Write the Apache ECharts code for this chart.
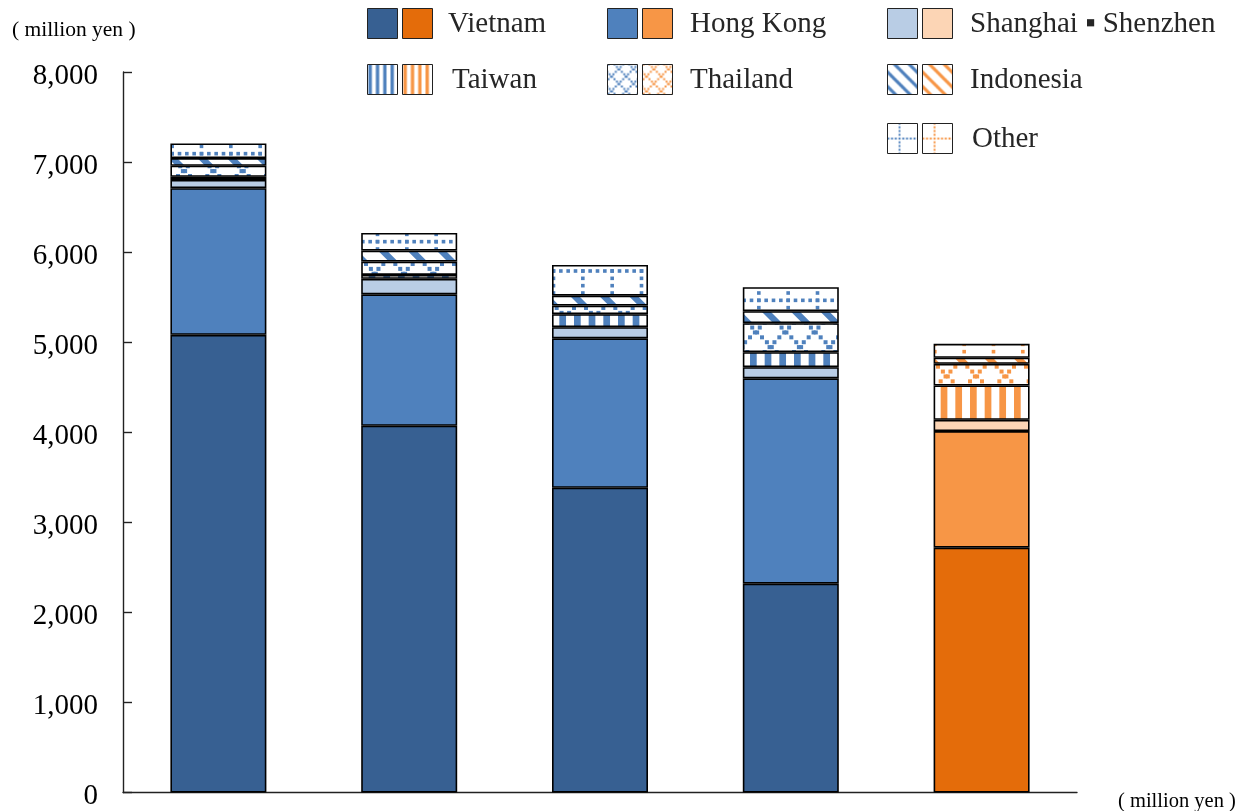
<!DOCTYPE html>
<html>
<head>
<meta charset="utf-8">
<script src="https://cdn.jsdelivr.net/npm/echarts@6/dist/echarts.min.js"></script>
<style>
  html, body { margin: 0; padding: 0; background: #fff; }
  #chart { width: 1242px; height: 811px; }
</style>
</head>
<body>
<div id="chart"></div>
<script>
// Stacked values per region (million yen), one entry per bar
const categories = ['1', '2', '3', '4', '5'];
const vietnam          = [5082, 4072, 3384, 2319, 2718];
const hongKong         = [1628, 1459, 1659, 2280, 1295];
const shanghaiShenzhen = [92, 172, 124, 124, 125];
const taiwan           = [35, 44, 144, 166, 381];
const thailand         = [122, 148, 95, 322, 241];
const indonesia        = [85, 122, 111, 133, 67];
const other            = [163, 196, 340, 266, 155];

const seriesNames = ['Vietnam', 'Hong Kong', 'Shanghai \u25AA Shenzhen', 'Taiwan', 'Thailand', 'Indonesia', 'Other'];
const seriesData = [vietnam, hongKong, shanghaiShenzhen, taiwan, thailand, indonesia, other];
const yTicks = [0, 1000, 2000, 3000, 4000, 5000, 6000, 7000, 8000];

// Bar drawn in the orange palette
const orangeBar = 4;

const BLUE = { dark: '#376092', mid: '#4F81BD', light: '#B9CDE5' };
const ORANGE = { dark: '#E46C0A', mid: '#F79646', light: '#FCD5B5' };

// ---- fill patterns -------------------------------------------------------
function makeTile(S, draw) {
  const c = document.createElement('canvas');
  c.width = S; c.height = S;
  const g = c.getContext('2d');
  g.fillStyle = '#fff';
  g.fillRect(0, 0, S, S);
  draw(g, S);
  return { image: c, repeat: 'repeat' };
}
function wrapRect(g, S, x, y, w, h) {
  for (const dx of [-S, 0, S]) for (const dy of [-S, 0, S]) g.fillRect(x + dx, y + dy, w, h);
}
function stripes(color, s) {
  return makeTile(Math.round(88 * s), (g, S) => {
    const P = S / 3;
    g.fillStyle = color;
    for (let k = 0; k < 6; k++) wrapRect(g, S, 2 * s + k * P / 2, 0, 6.7 * s, S);
  });
}
function lattice(color, s) {
  return makeTile(Math.round(88 * s), (g, S) => {
    const P = S / 3;
    g.fillStyle = color;
    const d = Math.max(2, 4 * s);
    const step = P / 6;
    for (let m = 0; m < 3; m++) {
      for (let i = 0; i < 18; i++) {
        const t = i * step;
        const xa = ((t + 14 * s + m * P) % S + S) % S;
        const xb = ((2 * s - t + m * P) % S + S) % S;
        wrapRect(g, S, xa - d / 2, t - d / 2, d, d);
        wrapRect(g, S, xb - d / 2, t - d / 2, d, d);
      }
    }
  });
}
function diagonal(color, s) {
  return makeTile(Math.round(88 * s), (g, S) => {
    const P = S / 3;
    g.fillStyle = color;
    const w = 9 * s;
    const c0 = 14.5 * s;
    for (let m = -8; m <= 4; m++) {
      const x0 = c0 + m * P;
      g.beginPath();
      g.moveTo(x0 - w / 2, 0);
      g.lineTo(x0 + w / 2, 0);
      g.lineTo(x0 + w / 2 + S, S);
      g.lineTo(x0 - w / 2 + S, S);
      g.closePath();
      g.fill();
    }
  });
}
// Dotted grid: rows at y = ry, columns at x = cx (mod period)
function dottedGrid(color, S, nPer, cx, ry, d, dotsPer) {
  return makeTile(S, (g) => {
    const P = S / nPer;
    g.fillStyle = color;
    for (let m = 0; m < nPer; m++) {
      for (let j = 0; j < dotsPer * nPer; j++) {
        wrapRect(g, S, cx + j * P / dotsPer - d / 2, ry + m * P - d / 2, d, d);
        wrapRect(g, S, cx + m * P - d / 2, ry + j * P / dotsPer - d / 2, d, d);
      }
    }
  });
}
function fills(pal, s) {
  return [pal.dark, pal.mid, pal.light,
    stripes(pal.mid, s), lattice(pal.mid, s), diagonal(pal.mid, s),
    dottedGrid(pal.mid, 88, 3, 25.5, 7, 3.6, 4)];
}
const blueFills = fills(BLUE, 1);
const orangeFills = fills(ORANGE, 1);
const blueLegend = fills(BLUE, 0.5);
const orangeLegend = fills(ORANGE, 0.5);
blueLegend[6] = dottedGrid(BLUE.mid, 30, 1, 12, 15, 2, 8);
orangeLegend[6] = dottedGrid(ORANGE.mid, 30, 1, 12, 15, 2, 8);

// ---- series --------------------------------------------------------------
const series = seriesNames.map((name, si) => ({
  name,
  type: 'bar',
  stack: 'total',
  barWidth: 96,
  itemStyle: { color: blueFills[si], borderColor: '#000', borderWidth: 1.6 },
  emphasis: { disabled: true },
  data: seriesData[si].map((v, ci) => ci === orangeBar
    ? { value: v, itemStyle: { color: orangeFills[si] } }
    : v)
}));

// ---- legend (pair of swatches per region) --------------------------------
const legendLayout = [
  { x: 367, y: 8,   tx: 448 },
  { x: 607, y: 8,   tx: 690 },
  { x: 887, y: 8,   tx: 970 },
  { x: 367, y: 64,  tx: 452 },
  { x: 607, y: 64,  tx: 690 },
  { x: 887, y: 64,  tx: 970 },
  { x: 887, y: 123, tx: 972 }
];
const graphics = [];
seriesNames.forEach((name, i) => {
  const L = legendLayout[i];
  graphics.push({
    type: 'rect', left: L.x, top: L.y,
    shape: { width: 30, height: 30 },
    style: { fill: blueLegend[i], stroke: '#222', lineWidth: 1 }
  });
  graphics.push({
    type: 'rect', left: L.x + 35, top: L.y,
    shape: { width: 30, height: 30 },
    style: { fill: orangeLegend[i], stroke: '#222', lineWidth: 1 }
  });
  graphics.push({
    type: 'text', left: L.tx, top: L.y + 2,
    style: { text: name, fill: '#262626', font: '29px "Liberation Serif"' }
  });
});
graphics.push({
  type: 'text', left: 12, top: 19,
  style: { text: '( million yen )', fill: '#000', font: '21.5px "Liberation Serif"' }
});
graphics.push({
  type: 'text', left: 1118, top: 791,
  style: { text: '( million yen )', fill: '#000', font: '20.5px "Liberation Serif"' }
});

const chart = echarts.init(document.getElementById('chart'), null, { renderer: 'canvas' });
chart.setOption({
  animation: false,
  backgroundColor: '#fff',
  grid: { left: 123, right: 165, top: 72, bottom: 17, containLabel: false },
  xAxis: {
    type: 'category',
    data: categories,
    axisLine: { lineStyle: { color: '#222', width: 1.4 } },
    axisTick: { show: false },
    axisLabel: { show: false }
  },
  yAxis: {
    type: 'value',
    min: yTicks[0],
    max: yTicks[yTicks.length - 1],
    interval: yTicks[1] - yTicks[0],
    axisLine: { show: true, lineStyle: { color: '#222', width: 1.4 } },
    axisTick: { show: true, inside: true, length: 9, lineStyle: { color: '#222', width: 1.4 } },
    splitLine: { show: false },
    axisLabel: {
      margin: 25,
      formatter: v => '{t|' + v.toLocaleString('en-US') + '}',
      rich: {
        t: {
          color: '#000',
          fontFamily: 'Liberation Serif',
          fontSize: 29,
          padding: [8, 0, 0, 0]
        }
      }
    }
  },
  series,
  graphic: graphics
});
</script>
</body>
</html>
